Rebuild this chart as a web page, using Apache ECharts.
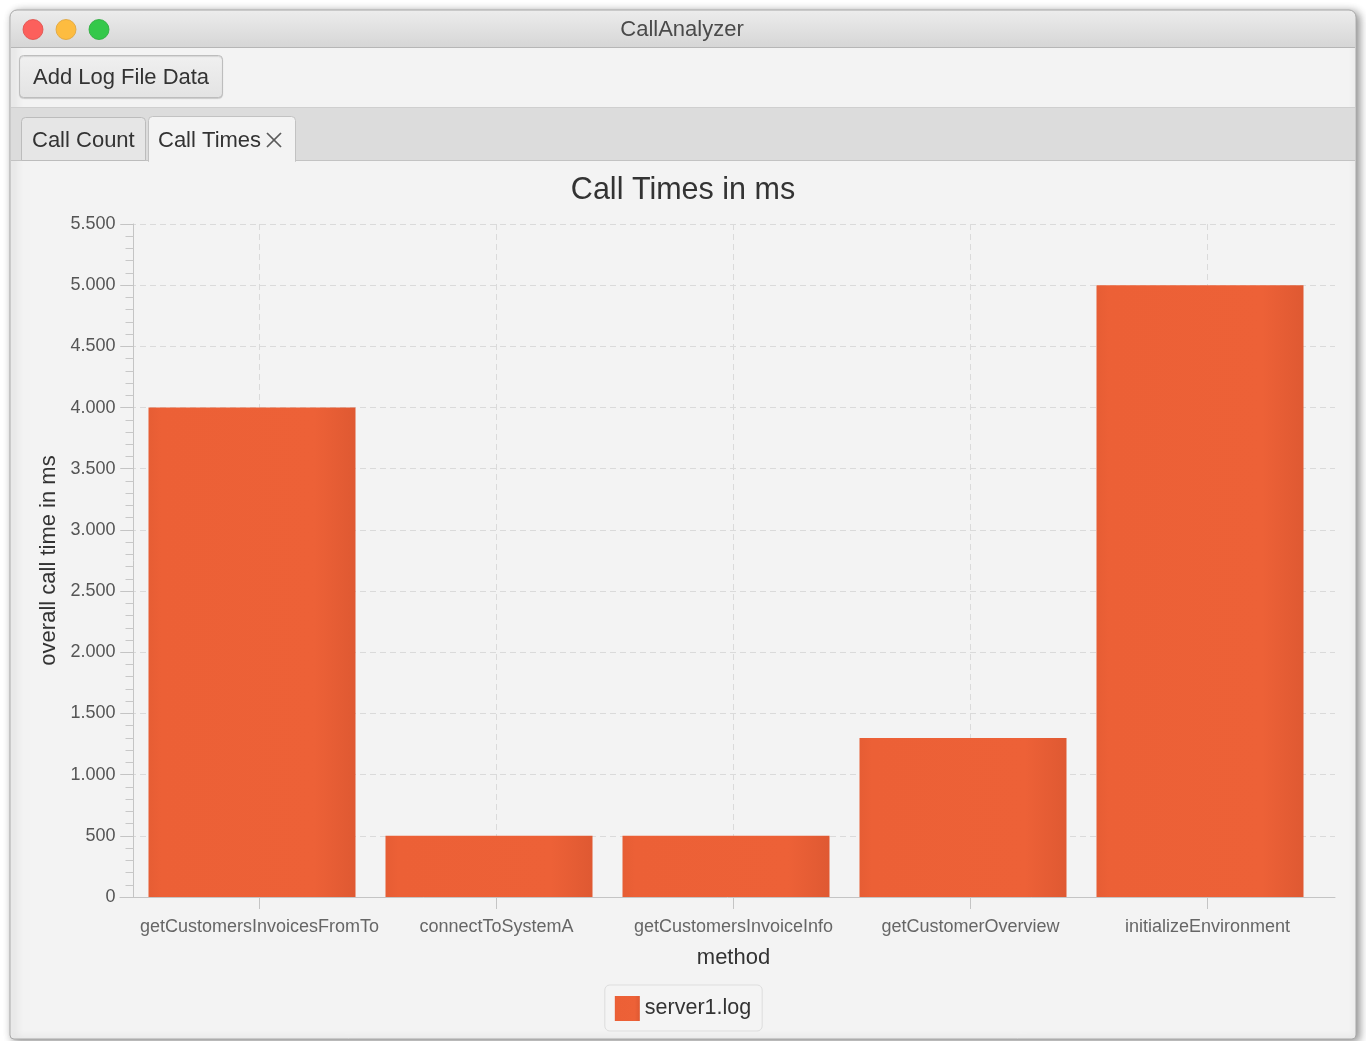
<!DOCTYPE html>
<html>
<head>
<meta charset="utf-8">
<title>CallAnalyzer</title>
<script src="https://cdn.jsdelivr.net/npm/echarts@6/dist/echarts.min.js"></script>
<style>
  html, body { margin: 0; padding: 0; background: #ffffff; }
  #chart { width: 1366px; height: 1041px; }
</style>
</head>
<body>
<div id="chart"></div>
<script>
// Window texts
const windowTitle = 'CallAnalyzer';
const toolbarButton = 'Add Log File Data';
const tabLabels = ['Call Count', 'Call Times'];

// Chart texts and data
const chartTitle = 'Call Times in ms';
const methods = [
  'getCustomersInvoicesFromTo',
  'connectToSystemA',
  'getCustomersInvoiceInfo',
  'getCustomerOverview',
  'initializeEnvironment'
];
const callTimesMs = [4000, 500, 500, 1300, 5000];
const seriesName = 'server1.log';
const xAxisTitle = 'method';
const yAxisTitle = 'overall call time in ms';
const yAxisMax = 5500;
const yAxisStep = 500;

const FONT = '"Liberation Sans", Arial, Helvetica, sans-serif';

// German-style grouping: 5500 -> 5.500
function groupThousands(v) {
  return String(v).replace(/\B(?=(\d{3})+(?!\d))/g, '.');
}

const barFill = new echarts.graphic.LinearGradient(0, 0, 1, 0, [
  { offset: 0, color: '#e65d34' },
  { offset: 0.06, color: '#ec6036' },
  { offset: 0.8, color: '#ed6137' },
  { offset: 1, color: '#df5932' }
]);

const GRID_TOP = 224;
const GRID_HEIGHT = 673;

// Window chrome drawn behind the chart
const chrome = [
  // window body with shadow
  { type: 'rect', z: -20, shape: { x: 10, y: 10, width: 1346, height: 1029, r: [7, 7, 4, 4] },
    style: { fill: '#f3f3f3', stroke: '#a9a9a9', lineWidth: 1,
             shadowBlur: 9, shadowColor: 'rgba(0,0,0,0.45)', shadowOffsetX: 3, shadowOffsetY: 2 } },
  // title bar
  { type: 'rect', z: -19, shape: { x: 11, y: 11, width: 1344, height: 36, r: [6, 6, 0, 0] },
    style: { fill: new echarts.graphic.LinearGradient(0, 0, 0, 1, [
      { offset: 0, color: '#ececec' }, { offset: 1, color: '#d6d6d6' }]) } },
  { type: 'line', z: -18, shape: { x1: 11, y1: 47.5, x2: 1355, y2: 47.5 },
    style: { stroke: '#b6b6b6', lineWidth: 1 } },
  { type: 'circle', z: -18, shape: { cx: 33, cy: 29.5, r: 10 }, style: { fill: '#fc605c', stroke: '#de4b47', lineWidth: 0.8 } },
  { type: 'circle', z: -18, shape: { cx: 66, cy: 29.5, r: 10 }, style: { fill: '#fdbc40', stroke: '#dea236', lineWidth: 0.8 } },
  { type: 'circle', z: -18, shape: { cx: 99, cy: 29.5, r: 10 }, style: { fill: '#34c84a', stroke: '#27aa38', lineWidth: 0.8 } },
  { type: 'text', z: -18, style: { text: windowTitle, x: 682, y: 30, align: 'center', verticalAlign: 'middle',
      font: '22px ' + FONT, fill: '#4a4a4a' } },

  // toolbar button
  { type: 'rect', z: -18, shape: { x: 19.5, y: 55.5, width: 203, height: 42, r: 4 },
    style: { fill: new echarts.graphic.LinearGradient(0, 0, 0, 1, [
      { offset: 0, color: '#f0f0f0' }, { offset: 1, color: '#e3e3e3' }]),
      stroke: '#bdbdbd', lineWidth: 1, shadowBlur: 1, shadowColor: 'rgba(0,0,0,0.12)', shadowOffsetY: 1 } },
  { type: 'text', z: -17, style: { text: toolbarButton, x: 33, y: 77.5, verticalAlign: 'middle',
      font: '22px ' + FONT, fill: '#333333' } },

  // tab header strip
  { type: 'rect', z: -19, shape: { x: 11, y: 107, width: 1344, height: 53 }, style: { fill: '#dcdcdc' } },
  { type: 'line', z: -18, shape: { x1: 11, y1: 107.5, x2: 1355, y2: 107.5 }, style: { stroke: '#cfcfcf', lineWidth: 1 } },
  { type: 'line', z: -18, shape: { x1: 11, y1: 160.5, x2: 1355, y2: 160.5 }, style: { stroke: '#c3c3c3', lineWidth: 1 } },

  // inactive tab
  { type: 'rect', z: -17, shape: { x: 21.5, y: 117.5, width: 124, height: 43, r: [4, 4, 0, 0] },
    style: { fill: '#e6e6e6', stroke: '#bcbcbc', lineWidth: 1 } },
  { type: 'text', z: -16, style: { text: tabLabels[0], x: 32, y: 140.5, verticalAlign: 'middle',
      font: '22px ' + FONT, fill: '#333333' } },

  // active tab (open at the bottom, joined with the content area)
  { type: 'rect', z: -17, shape: { x: 148.5, y: 116.5, width: 147, height: 45, r: [4, 4, 0, 0] },
    style: { fill: '#f3f3f3', stroke: '#c2c2c2', lineWidth: 1 } },
  { type: 'rect', z: -16, shape: { x: 149, y: 158, width: 146, height: 4 }, style: { fill: '#f3f3f3' } },
  { type: 'text', z: -16, style: { text: tabLabels[1], x: 158, y: 140.5, verticalAlign: 'middle',
      font: '22px ' + FONT, fill: '#333333' } },
  { type: 'line', z: -16, shape: { x1: 267, y1: 133, x2: 281, y2: 147 }, style: { stroke: '#5a5a5a', lineWidth: 1.7 } },
  { type: 'line', z: -16, shape: { x1: 281, y1: 133, x2: 267, y2: 147 }, style: { stroke: '#5a5a5a', lineWidth: 1.7 } }
];

const chart = echarts.init(document.getElementById('chart'), null, { renderer: 'canvas' });

chart.setOption({
  backgroundColor: '#ffffff',
  animation: false,
  textStyle: { fontFamily: FONT },
  graphic: { elements: chrome },
  title: {
    text: chartTitle,
    left: 'center',
    top: 170,
    textStyle: { fontFamily: FONT, fontSize: 30.5, fontWeight: 'normal', color: '#333333' }
  },
  legend: {
    data: [seriesName],
    left: 'center',
    top: 985,
    icon: 'rect',
    itemWidth: 25,
    itemHeight: 25,
    padding: [11, 11, 10, 10],
    backgroundColor: '#f4f4f4',
    borderColor: '#dddddd',
    borderWidth: 1,
    borderRadius: 5,
    textStyle: { fontFamily: FONT, fontSize: 21.5, color: '#333333' }
  },
  grid: [
    // plot frame holding the bars and the value axis
    { left: 133.5, width: 1185, top: GRID_TOP, height: GRID_HEIGHT },
    // wider frame carrying the horizontal grid lines and the base line
    { left: 120, width: 1215, top: GRID_TOP, height: GRID_HEIGHT },
    // frame for the method labels, ticks and vertical grid lines
    { left: 141, width: 1185, top: GRID_TOP, height: GRID_HEIGHT }
  ],
  xAxis: [
    {
      gridIndex: 0,
      type: 'category',
      data: methods,
      show: false
    },
    {
      gridIndex: 1,
      type: 'value',
      min: 0,
      max: 1,
      axisLine: { show: true, lineStyle: { color: '#c4c4c4' } },
      axisTick: { show: false },
      axisLabel: { show: false },
      splitLine: { show: false }
    },
    {
      gridIndex: 2,
      type: 'category',
      data: methods,
      axisLine: { show: false },
      axisTick: { show: true, alignWithLabel: true, length: 12, lineStyle: { color: '#c4c4c4' } },
      axisLabel: { interval: 0, margin: 21, fontFamily: FONT, fontSize: 18, color: '#666666' },
      splitLine: { show: true, alignWithLabel: true, lineStyle: { color: '#dadada', type: [6, 4], width: 1 } },
      name: xAxisTitle,
      nameLocation: 'middle',
      nameGap: 50,
      nameTextStyle: { fontFamily: FONT, fontSize: 22, color: '#333333' }
    }
  ],
  yAxis: [
    {
      gridIndex: 0,
      type: 'value',
      min: 0,
      max: yAxisMax,
      interval: yAxisStep,
      axisLine: { show: true, lineStyle: { color: '#c4c4c4' } },
      axisTick: { show: true, length: 13, lineStyle: { color: '#c4c4c4' } },
      minorTick: { show: true, splitNumber: 5, length: 8, lineStyle: { color: '#c8c8c8' } },
      axisLabel: { margin: 18, fontFamily: FONT, fontSize: 18, color: '#555555', formatter: groupThousands },
      splitLine: { show: false },
      name: yAxisTitle,
      nameLocation: 'middle',
      nameGap: 69,
      nameTextStyle: { fontFamily: FONT, fontSize: 22, color: '#333333' }
    },
    {
      gridIndex: 1,
      type: 'value',
      min: 0,
      max: yAxisMax,
      interval: yAxisStep,
      axisLine: { show: false },
      axisTick: { show: false },
      axisLabel: { show: false },
      splitLine: { show: true, lineStyle: { color: '#dadada', type: [6, 4], width: 1 } }
    },
    {
      gridIndex: 2,
      type: 'value',
      min: 0,
      max: yAxisMax,
      show: false
    }
  ],
  series: [
    {
      name: seriesName,
      type: 'bar',
      xAxisIndex: 0,
      yAxisIndex: 0,
      data: callTimesMs,
      barWidth: 207,
      itemStyle: { color: barFill }
    }
  ]
});
</script>
</body>
</html>
